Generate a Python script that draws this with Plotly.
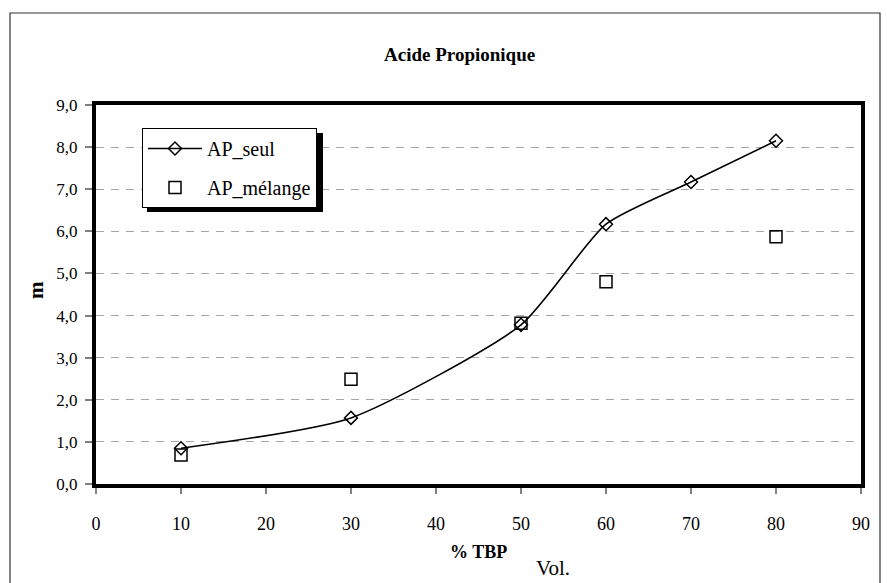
import plotly.graph_objects as go

# Data
x_seul = [10, 30, 50, 60, 70, 80]
y_seul = [0.85, 1.57, 3.78, 6.17, 7.17, 8.15]
x_melange = [10, 30, 50, 60, 80]
y_melange = [0.69, 2.49, 3.82, 4.80, 5.87]
x_ticks = [0, 10, 20, 30, 40, 50, 60, 70, 80, 90]
y_ticks = [0, 1, 2, 3, 4, 5, 6, 7, 8, 9]

FONT = "Liberation Serif"
W, H = 887, 583
L, R, T, B = 96, 861, 105, 484


def px(x):
    return (x - L) / (R - L)


def py(y):
    return (B - y) / (B - T)


fig = go.Figure()
fig.add_trace(go.Scatter(
    x=x_seul, y=y_seul, name="AP_seul", mode="lines+markers",
    line=dict(color="black", width=1.6, shape="spline", smoothing=0.6),
    marker=dict(symbol="diamond-open", size=10, color="black", line=dict(width=1.5, color="black")),
    legendgroup="a",
))
fig.add_trace(go.Scatter(
    x=x_melange, y=y_melange, name="AP_mélange", mode="markers",
    marker=dict(symbol="square-open", size=12, color="black", line=dict(width=1.5, color="black")),
    legendgroup="b",
))

fig.update_layout(
    width=W, height=H,
    margin=dict(l=L, r=W - R, t=T, b=H - B),
    paper_bgcolor="white", plot_bgcolor="white",
    separators=", ",
    font=dict(family=FONT, color="black", size=16),
    showlegend=True,
    legend=dict(
        x=px(142), y=py(128), xanchor="left", yanchor="top",
        bgcolor="white", bordercolor="black", borderwidth=1,
        font=dict(family=FONT, size=20, color="black"),
        itemwidth=54, tracegroupgap=10,
    ),
    xaxis=dict(
        range=[0, 90], tickvals=x_ticks, ticktext=[str(v) for v in x_ticks],
        showgrid=False, zeroline=False,
        showline=True, linecolor="black", linewidth=4, mirror=True,
        ticks="outside", ticklen=6, tickwidth=1.5, tickcolor="#808080",
        tickfont=dict(family=FONT, size=18), ticklabelstandoff=14,
    ),
    yaxis=dict(
        range=[0, 9], tickvals=y_ticks, tickformat=".1f",
        showgrid=True, gridcolor="#a6a6a6", gridwidth=1, griddash="8px,7px",
        zeroline=False,
        showline=True, linecolor="black", linewidth=4, mirror=True,
        ticks="outside", ticklen=7, tickwidth=1.5, tickcolor="#808080",
        tickfont=dict(family=FONT, size=17), ticklabelstandoff=4,
    ),
    shapes=[
        # outer frame
        dict(type="rect", xref="paper", yref="paper",
             x0=px(10), x1=px(880), y0=py(600), y1=py(13),
             line=dict(color="#333333", width=1.2), fillcolor="rgba(0,0,0,0)", layer="below"),
        # legend shadow
        dict(type="rect", xref="paper", yref="paper",
             x0=px(147), x1=px(323), y0=py(212), y1=py(133),
             line=dict(width=0), fillcolor="black", layer="above"),
    ],
    annotations=[
        dict(text="<b>Acide Propionique</b>", xref="paper", yref="paper",
             x=px(459), y=py(55), showarrow=False, font=dict(family=FONT, size=19),
             xanchor="center", yanchor="middle"),
        dict(text="<b>m</b>", xref="paper", yref="paper",
             x=px(36), y=py(290), showarrow=False, textangle=-90,
             font=dict(family=FONT, size=21), xanchor="center", yanchor="middle"),
        dict(text="<b>% TBP</b>", xref="paper", yref="paper",
             x=px(478), y=py(552), showarrow=False,
             font=dict(family=FONT, size=18), xanchor="center", yanchor="middle"),
        dict(text="Vol.", xref="paper", yref="paper",
             x=px(553), y=py(568), showarrow=False,
             font=dict(family=FONT, size=21), xanchor="center", yanchor="middle"),
    ],
)

fig.write_html(
    "out.html",
    config={"displayModeBar": False},
    post_script="document.body.style.margin='0';document.body.style.overflow='hidden';",
)
